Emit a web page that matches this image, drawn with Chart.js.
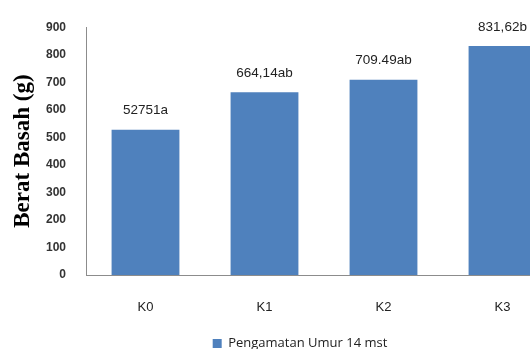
<!DOCTYPE html>
<html>
<head>
<meta charset="utf-8">
<script src="https://cdn.jsdelivr.net/npm/chart.js@4"></script>
<style>
  html, body { margin: 0; padding: 0; background: #fff; overflow: hidden; }
  #wrap { width: 600px; height: 360px; }
</style>
</head>
<body>
<div id="wrap"><canvas id="beratChart" width="600" height="360"></canvas></div>
<script>
// bar data
const categories = ['K0', 'K1', 'K2', 'K3'];
const beratBasah = [527.51, 664.14, 709.49, 831.62];
const valueLabels = ['52751a', '664,14ab', '709.49ab', '831,62b'];
const seriesName = 'Pengamatan Umur 14 mst';

// value text above each bar
const barLabels = {
  id: 'barLabels',
  afterDatasetsDraw(chart) {
    const ctx = chart.ctx;
    const meta = chart.getDatasetMeta(0);
    ctx.save();
    ctx.font = '13.5px "Liberation Sans", Arial, sans-serif';
    ctx.fillStyle = '#222';
    ctx.textAlign = 'center';
    ctx.textBaseline = 'middle';
    meta.data.forEach((bar, i) => {
      ctx.fillText(valueLabels[i], bar.x, bar.y - 19);
    });
    ctx.restore();
  }
};

new Chart(document.getElementById('beratChart'), {
  type: 'bar',
  data: {
    labels: categories,
    datasets: [{
      label: seriesName,
      data: beratBasah,
      backgroundColor: '#4F81BD',
      borderWidth: 0,
      categoryPercentage: 1,
      barPercentage: 0.57
    }]
  },
  options: {
    responsive: false,
    animation: false,
    layout: { padding: { top: 26, right: 0, left: 0, bottom: 0 } },
    plugins: {
      tooltip: { enabled: false },
      legend: {
        position: 'bottom',
        labels: {
          color: '#222',
          boxWidth: 9,
          boxHeight: 9,
          padding: 4,
          font: { size: 13, family: '"Open Sans", sans-serif' }
        }
      }
    },
    scales: {
      x: {
        grid: { display: false, drawTicks: false },
        border: { display: true, color: '#8c8c8c', width: 1 },
        ticks: { color: '#222', padding: 25, font: { size: 13, family: '"Liberation Sans", Arial, sans-serif' } },
        afterFit(scale) { scale.height = 58; }
      },
      y: {
        min: 0,
        max: 900,
        grid: { display: false, drawTicks: false },
        border: { display: true, color: '#8c8c8c', width: 1 },
        ticks: {
          stepSize: 100,
          color: '#333',
          padding: 20,
          font: { size: 12, weight: 'bold', family: '"Liberation Sans", Arial, sans-serif' }
        },
        title: {
          display: true,
          text: 'Berat Basah (g)',
          color: '#000',
          padding: { top: 9, bottom: 0 },
          font: { size: 23, weight: 'bold', family: '"Liberation Serif", "Times New Roman", serif' }
        },
        afterFit(scale) { scale.width = 86; }
      },
      // empty right-hand axis, keeps the plot narrower than the canvas
      yRight: {
        axis: 'y',
        position: 'right',
        min: 0,
        max: 900,
        grid: { display: false, drawTicks: false },
        border: { display: false },
        ticks: { display: false },
        afterFit(scale) { scale.width = 38; }
      }
    }
  },
  plugins: [barLabels]
});
</script>
</body>
</html>
